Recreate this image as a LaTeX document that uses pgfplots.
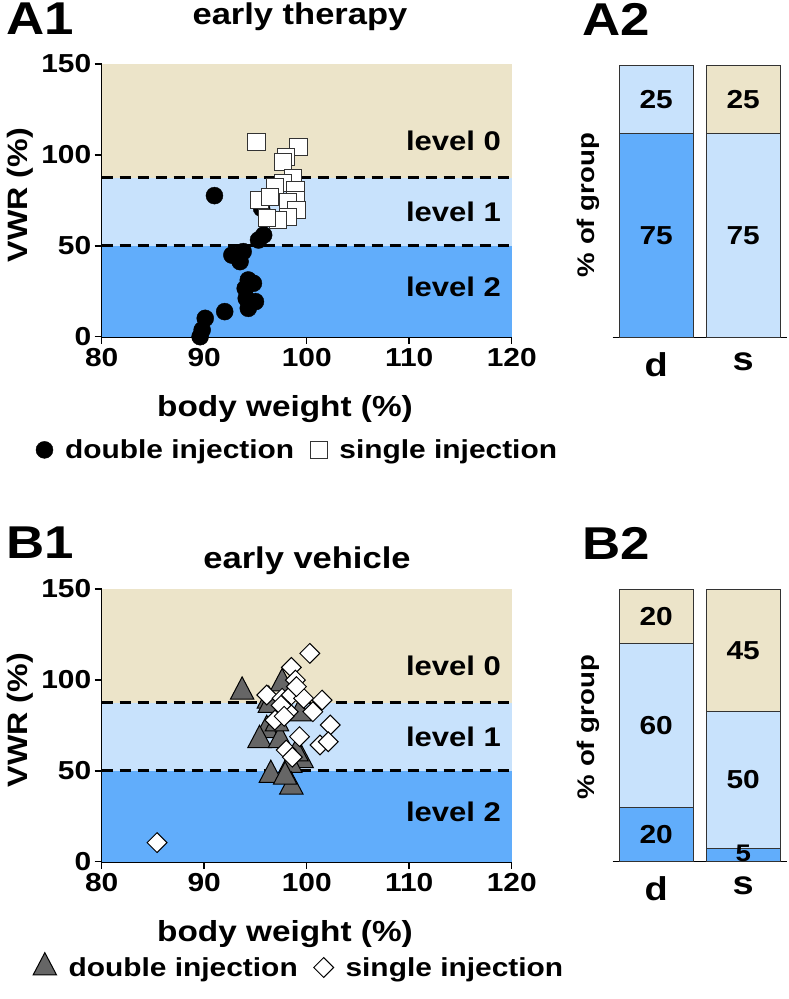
\documentclass[border=0pt]{standalone}
\usepackage{fontspec}
\setmainfont{Liberation Sans}[FakeStretch=1.15]
\usepackage{pgfplots}
\pgfplotsset{compat=1.18}
\definecolor{levA}{HTML}{ECE4C9}
\definecolor{levB}{HTML}{C8E2FC}
\definecolor{levC}{HTML}{61ADFB}
\definecolor{trig}{HTML}{666666}
\newcommand{\fs}[1]{\fontsize{#1}{#1}\selectfont\bfseries}
\pgfplotsset{
  scat/.style={scale only axis, width=410pt, height=272.7pt,
    xmin=80, xmax=120, ymin=0, ymax=150, clip=false,
    axis lines=left, axis line style={line width=2pt,-},
    xtick={80,90,...,120}, ytick={0,50,100,150},
    tick style={line width=1.5pt,black}, major tick length=7pt, tick align=outside,
    /pgf/number format/assume math mode=true,
    tick label style={font=\fs{26}},
    xticklabel style={yshift=-1pt}, yticklabel style={xshift=0pt},
    legend columns=2,
    legend style={draw=none, fill=none, font=\fs{26}, anchor=west,
      /tikz/every odd column/.append style={column sep=10pt},
      /tikz/every even column/.append style={column sep=14pt}},
    legend cell align=left,
  },
  bars/.style={scale only axis, width=174pt, height=272.7pt,
    xmin=-0.5, xmax=1.5, ymin=0, ymax=100,
    ybar stacked, bar width=74pt,
    axis x line=bottom, axis y line=none, axis line style={line width=1.5pt,-},
    xtick={0,1}, xticklabels={d,s}, major tick length=0pt,
    xticklabel style={font=\fs{33}, yshift=-11pt},
  },
  bst/.style={draw=black!80, line width=1pt},
}
\begin{document}
\begin{tikzpicture}
\path[use as bounding box] (0pt,0pt) rectangle (789pt,-999pt);
% ---------------- A1 ----------------
\begin{axis}[scat, at={(101.7pt,-336.7pt)}, anchor=south west,
  legend style={at={(axis description cs:-0.168,-0.415)}}]
\fill[levA] (axis cs:80,87.5) rectangle (axis cs:120,150);
\fill[levB] (axis cs:80,50) rectangle (axis cs:120,87.5);
\fill[levC] (axis cs:80,0) rectangle (axis cs:120,50);
\draw[black, line width=3pt, dash pattern=on 11pt off 7pt] (axis cs:80,87.5) -- (axis cs:120,87.5);
\draw[black, line width=3pt, dash pattern=on 11pt off 7pt] (axis cs:80,50) -- (axis cs:120,50);
\addplot[only marks, mark=*, mark size=8.5pt, mark options={fill=black, draw=black}] coordinates {
(91.0,77.6) (95.6,70.6) (95.8,55.9) (95.3,53.2)
(92.7,44.9) (93.8,46.8) (93.5,41.3) (94.3,31.2) (94.8,29.4) (94.0,26.6)
(94.1,21.1) (95.0,19.3) (94.3,15.6) (92.0,13.8) (90.1,10.1) (89.8,3.7) (89.6,0)
};
\addlegendentry{double injection}
\addplot[only marks, mark=square*, mark size=8.6pt, mark options={fill=white, draw=black!80, line width=1pt}] coordinates {
(95.1,106.9) (99.2,104.5) (98.0,98.7) (97.7,96.3) (98.7,87.1) (97.7,84.4)
(96.9,82.5) (98.9,80.7) (95.4,75.2) (96.4,77.0) (98.9,75.2) (98.2,74.3)
(99.0,69.7) (98.2,66.0) (97.2,64.2) (96.1,65.1)
};
\addlegendentry{single injection}
\node[font=\fs{27}, anchor=east] at (axis cs:119.3,108) {level 0};
\node[font=\fs{27}, anchor=east] at (axis cs:119.3,68.8) {level 1};
\node[font=\fs{27}, anchor=east] at (axis cs:119.3,27.5) {level 2};
\end{axis}
\node[font=\fs{46}] at (40pt,-19pt) {A1};
\node[font=\fs{30}] at (300pt,-17pt) {early therapy};
\node[font=\fs{28}, rotate=90] at (20pt,-195pt) {VWR (\%)};
\node[font=\fs{29}] at (285pt,-409pt) {body weight (\%)};
% ---------------- A2 ----------------
\begin{axis}[bars, at={(612.7pt,-337.7pt)}, anchor=south west]
\addplot[bst, fill=levC] coordinates {(0,75) (1,0)};
\addplot[bst, fill=levB] coordinates {(0,25) (1,75)};
\addplot[bst, fill=levA] coordinates {(0,0) (1,25)};
\coordinate (a1) at (axis cs:0,37.5);
\coordinate (a2) at (axis cs:0,87.5);
\coordinate (a3) at (axis cs:1,37.5);
\coordinate (a4) at (axis cs:1,87.5);
\end{axis}
\node[font=\fs{26}] at (a1) {75};
\node[font=\fs{26}] at (a2) {25};
\node[font=\fs{26}] at (a3) {75};
\node[font=\fs{26}] at (a4) {25};
\node[font=\fs{46}] at (616pt,-19pt) {A2};
\node[font=\fs{24}, rotate=90] at (588pt,-205pt) {\% of group};
% ---------------- B1 ----------------
\begin{axis}[scat, at={(101.7pt,-861.7pt)}, anchor=south west,
  legend style={at={(axis description cs:-0.175,-0.383)}}]
\fill[levA] (axis cs:80,87.5) rectangle (axis cs:120,150);
\fill[levB] (axis cs:80,50) rectangle (axis cs:120,87.5);
\fill[levC] (axis cs:80,0) rectangle (axis cs:120,50);
\draw[black, line width=3pt, dash pattern=on 11pt off 7pt] (axis cs:80,87.5) -- (axis cs:120,87.5);
\draw[black, line width=3pt, dash pattern=on 11pt off 7pt] (axis cs:80,50) -- (axis cs:120,50);
\addplot[only marks, mark=triangle*, mark size=13.5pt, mark options={fill=trig, draw=black, line width=1pt, yscale=1.1}] coordinates {
(93.7,93.5) (97.6,98.1) (96.3,88.5)
(96.4,86.2) (99.3,81.6) (96.1,72.4) (95.4,66.9) (97.4,66.9) (97.1,76.1)
(99.5,55.9) (98.4,53.2) (99.0,59.6)
(96.5,47.7) (98.5,41.3) (97.9,46.8)
};
\addlegendentry{double injection}
\addplot[only marks, mark=square*, mark size=7pt, mark options={rotate=45, fill=white, draw=black, line width=1pt}] coordinates {
(100.3,114.6) (98.5,106.9) (98.9,99.9) (96.1,91.7) (97.6,89.9) (98.5,91.7)
(99.7,89.9) (101.5,88.9) (99.0,96.3)
(98.2,82.5) (100.6,82.5) (96.9,77.9) (102.3,75.2) (99.3,68.8) (101.3,64.2)
(102.1,66.0) (97.5,86.0) (98.0,61.4) (98.6,57.5) (97.8,80.0)
(85.4,10.5)
};
\addlegendentry{single injection}
\node[font=\fs{27}, anchor=east] at (axis cs:119.3,108) {level 0};
\node[font=\fs{27}, anchor=east] at (axis cs:119.3,68.8) {level 1};
\node[font=\fs{27}, anchor=east] at (axis cs:119.3,27.5) {level 2};
\end{axis}
\node[font=\fs{46}] at (40pt,-543pt) {B1};
\node[font=\fs{30}] at (307pt,-561pt) {early vehicle};
\node[font=\fs{28}, rotate=90] at (20pt,-720pt) {VWR (\%)};
\node[font=\fs{29}] at (285pt,-934pt) {body weight (\%)};
% ---------------- B2 ----------------
\begin{axis}[bars, at={(612.7pt,-861.7pt)}, anchor=south west]
\addplot[bst, fill=levC] coordinates {(0,20) (1,5)};
\addplot[bst, fill=levB] coordinates {(0,60) (1,50)};
\addplot[bst, fill=levA] coordinates {(0,20) (1,45)};
\coordinate (b1) at (axis cs:0,10);
\coordinate (b2) at (axis cs:0,50);
\coordinate (b3) at (axis cs:0,90);
\coordinate (b4) at (axis cs:1,3.2);
\coordinate (b5) at (axis cs:1,30);
\coordinate (b6) at (axis cs:1,77.5);
\end{axis}
\node[font=\fs{26}] at (b1) {20};
\node[font=\fs{26}] at (b2) {60};
\node[font=\fs{26}] at (b3) {20};
\node[font=\fs{24}, inner sep=0pt] at (b4) {5};
\node[font=\fs{26}] at (b5) {50};
\node[font=\fs{26}] at (b6) {45};
\node[font=\fs{46}] at (616pt,-543pt) {B2};
\node[font=\fs{24}, rotate=90] at (588pt,-727pt) {\% of group};
\end{tikzpicture}
\end{document}
